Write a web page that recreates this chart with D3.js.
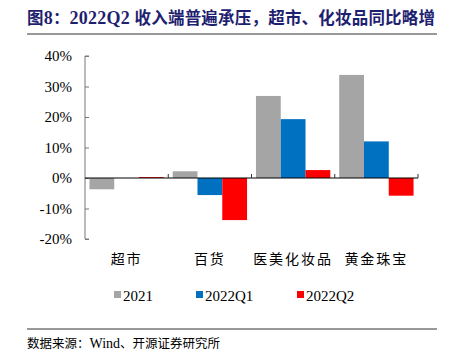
<!DOCTYPE html>
<html><head><meta charset="utf-8">
<script src="https://cdn.jsdelivr.net/npm/d3@7"></script>
<style>body{margin:0;background:#fff}svg{display:block}</style>
</head><body>
<script>
const categories = ["超市", "百货", "医美化妆品", "黄金珠宝"];
const seriesNames = ["2021", "2022Q1", "2022Q2"];
const s2021 = [-3.7, 2.2, 26.9, 33.8];
const s2022Q1 = [0.0, -5.6, 19.3, 12.0];
const s2022Q2 = [0.3, -13.8, 2.6, -5.8];
const yTicks = [-20, -10, 0, 10, 20, 30, 40];
const colors = ["#A5A5A5", "#0070C0", "#FF0000"];

const W = 458, H = 359;
const svg = d3.select("body").append("svg").attr("width", W).attr("height", H);
const serif = "'Liberation Serif','Times New Roman',serif";
const cjk = "'Noto Sans CJK SC','Noto Sans CJK JP',sans-serif";

const title = svg.append("text").attr("x", 27).attr("y", 24)
  .attr("font-family", cjk).attr("font-weight", "bold").attr("font-size", 16.5)
  .attr("fill", "#1F1F70").attr("textLength", 408).attr("lengthAdjust", "spacing");
title.append("tspan").text("图");
title.append("tspan").attr("font-family", serif).attr("font-size", 18).text("8");
title.append("tspan").text("：");
title.append("tspan").attr("font-family", serif).attr("font-size", 18).text("2022Q2 ");
title.append("tspan").text("收入端普遍承压，超市、化妆品同比略增");
svg.append("line").attr("x1", 27).attr("x2", 437).attr("y1", 34).attr("y2", 34)
  .attr("stroke", "#333").attr("stroke-width", 1);

const x0 = d3.scaleBand().domain(categories).range([85, 418]).paddingInner(0).paddingOuter(0);
const x1 = d3.scaleBand().domain(seriesNames).range([0, x0.bandwidth()]).paddingInner(0).paddingOuter(0.18);
const y = d3.scaleLinear().domain([-20, 40]).range([239, 56]);

// y axis
const yAxis = d3.axisRight(y).tickValues(yTicks).tickSize(4).tickFormat(d => d + "%");
const gy = svg.append("g").attr("transform", "translate(85,0)").call(yAxis);
gy.select(".domain").attr("stroke", "#777").attr("d", `M4,${y(-20)}H0V${y(40)}H4`);
gy.selectAll(".tick line").attr("stroke", "#777");
gy.selectAll(".tick text").attr("x", -13).attr("text-anchor", "end")
  .attr("font-family", serif).attr("font-size", 15).attr("fill", "#000");

const seriesData = [s2021, s2022Q1, s2022Q2];
seriesData.forEach((vals, si) => {
  svg.append("g").selectAll("rect").data(vals).join("rect")
    .attr("x", (d, i) => x0(categories[i]) + x1(seriesNames[si]))
    .attr("width", x1.bandwidth())
    .attr("y", d => y(Math.max(0, d)))
    .attr("height", d => Math.abs(y(d) - y(0)))
    .attr("fill", colors[si]);
});

// x axis at 0
const xAxis = d3.axisTop(x0).tickSize(0).tickFormat("");
const gx = svg.append("g").attr("transform", `translate(0,${y(0)})`).call(xAxis);
gx.select(".domain").attr("stroke", "#000").attr("d", `M85,0H418`);
svg.append("g").selectAll("line").data(categories).join("line")
  .attr("x1", d => x0(d) + x0.bandwidth()).attr("x2", d => x0(d) + x0.bandwidth())
  .attr("y1", y(0)).attr("y2", y(0) - 4).attr("stroke", "#333");

svg.append("g").selectAll("text").data(categories).join("text")
  .attr("x", d => x0(d) + x0.bandwidth() / 2).attr("y", 264)
  .attr("text-anchor", "middle").attr("font-family", cjk).attr("font-size", 14)
  .attr("letter-spacing", 2).attr("fill", "#000").text(d => d);

// legend
const legX = [114, 196, 297];
const leg = svg.append("g").selectAll("g").data(seriesNames).join("g")
  .attr("transform", (d, i) => `translate(${legX[i]},0)`);
leg.append("rect").attr("x", 0).attr("y", 291).attr("width", 7).attr("height", 7)
  .attr("fill", (d, i) => colors[i]);
leg.append("text").attr("x", 9).attr("y", 301).attr("font-family", serif).attr("font-size", 15)
  .attr("fill", "#000").text(d => d);

svg.append("line").attr("x1", 27).attr("x2", 437).attr("y1", 329).attr("y2", 329)
  .attr("stroke", "#333").attr("stroke-width", 1);
const src = svg.append("text").attr("x", 27).attr("y", 348).attr("font-size", 12.5).attr("fill", "#000");
src.append("tspan").attr("font-family", cjk).text("数据来源：");
src.append("tspan").attr("font-family", serif).attr("font-size", 14).text("Wind");
src.append("tspan").attr("font-family", cjk).text("、开源证券研究所");
</script>
</body></html>
